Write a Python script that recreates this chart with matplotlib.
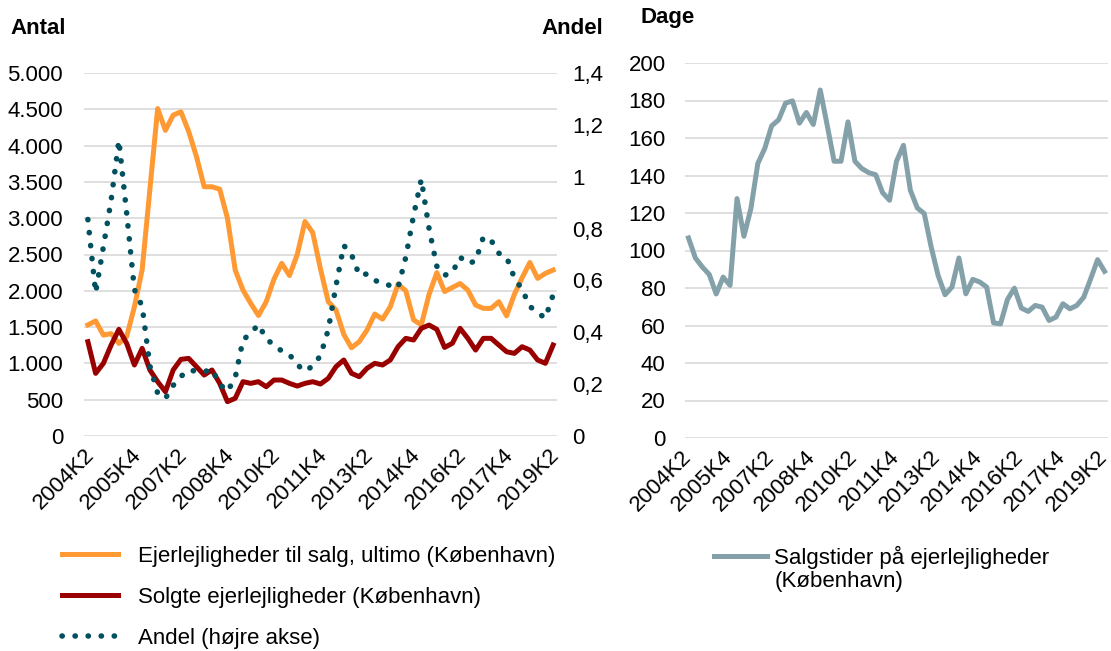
import matplotlib
matplotlib.use('Agg')
import matplotlib.pyplot as plt
import matplotlib.transforms as mtransforms
import numpy as np

plt.rcParams['font.family'] = ['Liberation Sans', 'DejaVu Sans']

# kvartaler 2004K2 - 2019K2
quarters = [f'{y}K{q}' for y in range(2004, 2020) for q in range(1, 5)][1:-2]

til_salg = [1530, 1585, 1390, 1410, 1275, 1370, 1780, 2290, 3400, 4510,
            4210, 4420, 4465, 4195, 3850, 3433, 3433, 3400, 3000, 2286,
            2010, 1827, 1660, 1850, 2160, 2378, 2210, 2500, 2955, 2800,
            2300, 1850, 1735, 1400, 1215, 1300, 1460, 1680, 1610, 1780,
            2090, 2000, 1600, 1530, 1950, 2250, 1990, 2045, 2100, 2010,
            1804, 1758, 1758, 1850, 1655, 1950, 2180, 2390, 2171, 2240,
            2286]
solgte = [1299, 863, 1001, 1253, 1469, 1276, 978, 1207, 909, 748,
          610, 909, 1056, 1069, 955, 840, 909, 725, 473, 519,
          748, 725, 748, 679, 771, 771, 725, 688, 725, 748,
          716, 794, 955, 1047, 863, 817, 932, 1001, 978, 1047,
          1230, 1345, 1322, 1483, 1528, 1469, 1220, 1276, 1483, 1345,
          1184, 1345, 1345, 1253, 1161, 1138, 1230, 1184, 1047, 1001,
          1253]
andel = [0.835, 0.553, 0.73, 0.91, 1.14, 0.86, 0.565, 0.50, 0.27, 0.165,
         0.145, 0.195, 0.23, 0.254, 0.25, 0.248, 0.257, 0.20, 0.172, 0.225,
         0.37, 0.397, 0.43, 0.375, 0.35, 0.328, 0.314, 0.275, 0.25, 0.27,
         0.31, 0.41, 0.58, 0.735, 0.70, 0.62, 0.625, 0.60, 0.59, 0.58,
         0.572, 0.69, 0.85, 0.99, 0.80, 0.655, 0.62, 0.63, 0.69, 0.665,
         0.675, 0.767, 0.755, 0.705, 0.69, 0.61, 0.565, 0.50, 0.475, 0.455,
         0.545]
salgstid = [106.7, 96.0, 91.2, 87.2, 76.8, 85.8, 81.4, 127.7, 107.6, 122.3,
            146.4, 154.4, 166.5, 169.7, 178.6, 179.8, 167.9, 173.6, 167.2, 185.6,
            166.9, 147.6, 147.6, 168.6, 147.6, 143.7, 141.5, 140.4, 130.8, 126.8,
            147.6, 156.1, 132.1, 122.7, 119.7, 101.9, 86.7, 76.4, 80.5, 96.0,
            76.9, 84.6, 83.2, 80.5, 61.4, 60.9, 73.9, 79.9, 69.3, 67.5,
            70.7, 69.8, 62.7, 64.5, 71.6, 68.9, 70.7, 75.1, 84.9, 95.1,
            88.9]

left_ticks = [0, 500, 1000, 1500, 2000, 2500, 3000, 3500, 4000, 4500, 5000]
left_labels = ['0', '500', '1.000', '1.500', '2.000', '2.500', '3.000',
               '3.500', '4.000', '4.500', '5.000']
right_ticks = [0, 0.2, 0.4, 0.6, 0.8, 1.0, 1.2, 1.4]
right_labels = ['0', '0,2', '0,4', '0,6', '0,8', '1', '1,2', '1,4']
dage_ticks = list(range(0, 201, 20))

ORANGE = '#FF9933'
DARKRED = '#990000'
TEAL = '#00505F'
GREY = '#84A1AA'
GRID = '#D9D9D9'
FS = 16

W, H = 1111, 651
fig = plt.figure(figsize=(W / 100, H / 100), dpi=100)

def fig_box(x0, y0, x1, y1):
    return [x0 / W, 1 - y1 / H, (x1 - x0) / W, (y1 - y0) / H]

x = np.arange(len(quarters))

# venstre figur
ax1 = fig.add_axes(fig_box(84, 73, 557, 436))
ax2 = ax1.twinx()
l1, = ax1.plot(x, til_salg, color=ORANGE, lw=3.6, solid_joinstyle='round')
l2, = ax1.plot(x, solgte, color=DARKRED, lw=3.6, solid_joinstyle='round')
l3, = ax2.plot(x, andel, color=TEAL, lw=4.0, linestyle=(0, (0.05, 2.3)),
               dash_capstyle='round')

ax1.set_xlim(-0.5, len(x) - 0.5)
ax1.set_ylim(0, 5000)
ax2.set_ylim(0, 1.4)
ax1.set_yticks(left_ticks)
ax1.set_yticklabels(left_labels)
ax2.set_yticks(right_ticks)
ax2.set_yticklabels(right_labels)
ax1.grid(axis='y', color=GRID, lw=1.2)
ax1.set_axisbelow(True)

# højre figur
ax3 = fig.add_axes(fig_box(685, 63, 1108, 438))
l4, = ax3.plot(x, salgstid, color=GREY, lw=3.6, solid_joinstyle='round')
ax3.set_xlim(-0.5, len(x) - 0.5)
ax3.set_ylim(0, 200)
ax3.set_yticks(dage_ticks)
ax3.grid(axis='y', color=GRID, lw=1.2)
ax3.set_axisbelow(True)

for ax in (ax1, ax2, ax3):
    for s in ax.spines.values():
        s.set_visible(False)
    ax.tick_params(length=0, labelsize=FS)
ax1.tick_params(axis='y', pad=15)
ax2.tick_params(axis='y', pad=11)
ax3.tick_params(axis='y', pad=14)
ax1.tick_params(axis='x', pad=6)
ax3.tick_params(axis='x', pad=6)

# x-etiketter, skubbet lidt til venstre (efter tick_params)
for ax, dx in ((ax1, -0.04), (ax3, -0.08)):
    shift = mtransforms.ScaledTranslation(dx, 0, fig.dpi_scale_trans)
    ax.set_xticks(x[::6])
    ax.set_xticklabels(quarters[::6], rotation=45, ha='right', va='top',
                       rotation_mode='anchor')
    for lab in ax.get_xticklabels():
        lab.set_transform(lab.get_transform() + shift)

fig.text(10 / W, 1 - 28 / H, 'Antal', fontsize=FS, fontweight='bold', va='center')
fig.text(541 / W, 1 - 28 / H, 'Andel', fontsize=FS, fontweight='bold', va='center')
fig.text(640 / W, 1 - 18 / H, 'Dage', fontsize=FS, fontweight='bold', va='center')

fig.legend([l1, l2, l3],
           ['Ejerlejligheder til salg, ultimo (København)',
            'Solgte ejerlejligheder (København)',
            'Andel (højre akse)'],
           loc='upper left', bbox_to_anchor=(62 / W, 1 - 546 / H),
           frameon=False, fontsize=FS, handlelength=2.5, handletextpad=0.9,
           labelspacing=0.9, borderpad=0, borderaxespad=0)
fig.legend([l4], ['Salgstider på ejerlejligheder'],
           loc='upper left', bbox_to_anchor=(714 / W, 1 - 546 / H),
           frameon=False, fontsize=FS, handlelength=2.4, handletextpad=0.3,
           borderpad=0, borderaxespad=0)
fig.text(775 / W, 1 - 582 / H, '(København)', fontsize=FS, va='center')

fig.savefig('out.png', dpi=100)
